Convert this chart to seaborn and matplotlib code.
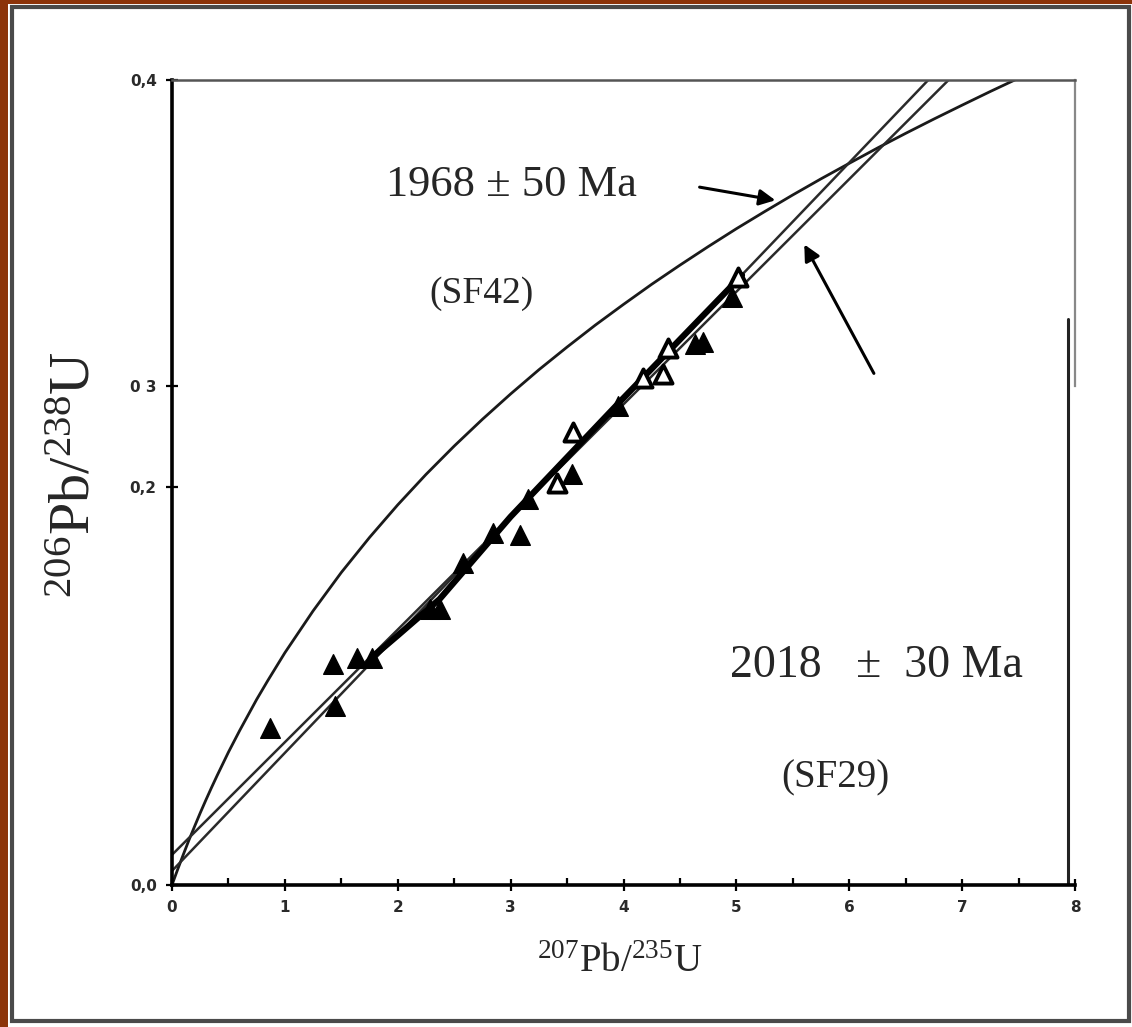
import numpy as np
import pandas as pd
import matplotlib
matplotlib.use('Agg')
import matplotlib.pyplot as plt
from matplotlib.patches import Rectangle
import seaborn as sns

# concordia curve
concordia_x = [0, 0.02, 0.05, 0.1, 0.15, 0.2, 0.25, 0.3, 0.35, 0.4, 0.5, 0.6, 0.75,
               0.85, 1.0, 1.25, 1.5, 1.75, 2.0, 2.25, 2.5, 2.75, 3.0, 3.25, 3.5,
               3.75, 4.0, 4.25, 4.5, 4.75, 5.0, 5.25, 5.5, 5.75, 6.0, 6.25, 6.5,
               6.75, 7.0, 7.25, 7.5]
concordia_y = [0, 0.0031, 0.0077, 0.0151, 0.0223, 0.0291, 0.0358, 0.0422, 0.0484,
               0.0544, 0.0660, 0.0768, 0.0922, 0.1017, 0.1154, 0.1362, 0.1553,
               0.1727, 0.1889, 0.2040, 0.2181, 0.2314, 0.2440, 0.2560, 0.2673,
               0.2782, 0.2885, 0.2985, 0.3080, 0.3172, 0.3261, 0.3346, 0.3429,
               0.3509, 0.3586, 0.3662, 0.3735, 0.3806, 0.3875, 0.3943, 0.4009]

# discordia lines
disc_2018_x = [0, 6.88]
disc_2018_y = [0.015, 0.4]
disc_1968_x = [0, 6.70]
disc_1968_y = [0.007, 0.4]

# thick segment through the data
fit_x = [1.77, 2.0, 2.37, 3.0, 4.0, 5.05]
fit_y = [0.113, 0.124, 0.142, 0.183, 0.242, 0.303]

# filled triangles (SF29) and open triangles (SF42)
filled_x = [0.87, 1.43, 1.44, 1.64, 1.77, 2.29, 2.37, 2.58, 2.84, 3.08, 3.15, 3.54,
            3.95, 4.63, 4.70, 4.96]
filled_y = [0.078, 0.110, 0.089, 0.113, 0.113, 0.137, 0.137, 0.160, 0.175, 0.174,
            0.192, 0.204, 0.238, 0.269, 0.270, 0.292]
open_x = [3.41, 3.55, 4.17, 4.35, 4.39, 5.01]
open_y = [0.200, 0.225, 0.252, 0.254, 0.267, 0.302]

xtick_vals = [0, 1, 2, 3, 4, 5, 6, 7, 8]
xtick_labels = ['0', '1', '2', '3', '4', '5', '6', '7', '8']
ytick_vals = [0.0, 0.198, 0.248, 0.4]
ytick_labels = ['0,0', '0,2', '0 3', '0,4']

sns.set_theme(style='white')
plt.rcParams['font.family'] = ['Liberation Serif', 'DejaVu Serif']
plt.rcParams['mathtext.fontset'] = 'custom'
plt.rcParams['mathtext.rm'] = 'Liberation Serif'
plt.rcParams['mathtext.it'] = 'Liberation Serif:italic'

W, H = 1132, 1027
fig = plt.figure(figsize=(W / 100, H / 100), dpi=100, facecolor='#8c3309')
# white sheet with grey frame
fig.patches.append(Rectangle((8 / W, 0 / H), 1, (H - 4) / H, transform=fig.transFigure,
                             facecolor='white', edgecolor='none', zorder=-10))
fig.patches.append(Rectangle((12 / W, (H - 1021) / H), (1129 - 12) / W, (1021 - 7) / H,
                             transform=fig.transFigure, facecolor='none',
                             edgecolor='#4a4a4a', lw=3, zorder=-9))

ax = fig.add_axes([172 / W, (H - 885) / H, 903 / W, 805 / H])
ax.set_facecolor('none')

sns.lineplot(x=concordia_x, y=concordia_y, sort=False, color='#1a1a1a', lw=2, ax=ax)
sns.lineplot(x=disc_2018_x, y=disc_2018_y, sort=False, color='#2a2a2a', lw=1.8, ax=ax)
sns.lineplot(x=disc_1968_x, y=disc_1968_y, sort=False, color='#2a2a2a', lw=1.8, ax=ax)
sns.lineplot(x=fit_x, y=fit_y, sort=False, color='black', lw=4.5, ax=ax)

sns.scatterplot(x=filled_x, y=filled_y, marker='^', s=200, color='black',
                edgecolor='black', linewidth=1, ax=ax, zorder=5)
sns.scatterplot(x=open_x, y=open_y, marker='^', s=170, facecolor='white',
                edgecolor='black', linewidth=2.8, ax=ax, zorder=6)

ax.set_xlim(0, 8)
ax.set_ylim(0, 0.4)
ax.set_xticks(xtick_vals)
ax.set_xticklabels(xtick_labels)
ax.set_xticks(np.arange(0.5, 8, 1.0), minor=True)
ax.set_yticks(ytick_vals)
ax.set_yticklabels(ytick_labels)
ax.tick_params(axis='both', which='major', direction='inout', length=8, width=1.6,
               color='black', labelsize=11, pad=7, bottom=True, left=True)
ax.tick_params(axis='x', which='minor', direction='in', length=5, width=1.6,
               color='black', bottom=True)
for lab in ax.get_xticklabels() + ax.get_yticklabels():
    lab.set_family('DejaVu Sans')
    lab.set_fontweight('bold')
    lab.set_color('#2a2a2a')

for side in ['left', 'bottom']:
    ax.spines[side].set_color('black')
    ax.spines[side].set_linewidth(2.6)
ax.spines['top'].set_color('#555555')
ax.spines['top'].set_linewidth(1.8)
ax.spines['right'].set_color('#888888')
ax.spines['right'].set_linewidth(1.6)
ax.spines['right'].set_bounds(0.248, 0.4)
ax.plot([7.94, 7.94], [0, 0.281], color='#222222', lw=2.2)

ax.text(3.01, 0.348, '1968 ± 50 Ma', fontsize=32, ha='center', va='center')
ax.text(2.74, 0.294, '(SF42)', fontsize=27, ha='center', va='center')
ax.text(6.24, 0.109, '2018   ±  30 Ma', fontsize=33, ha='center', va='center')
ax.text(5.88, 0.053, '(SF29)', fontsize=28, ha='center', va='center')

ax.annotate('', xy=(5.37, 0.340), xytext=(4.65, 0.347),
            arrowprops=dict(arrowstyle='-|>', color='black', lw=2.2, mutation_scale=24))
ax.annotate('', xy=(5.59, 0.3195), xytext=(6.23, 0.253),
            arrowprops=dict(arrowstyle='-|>', color='black', lw=2.2, mutation_scale=24))

fig.text(620 / W, 1 - 962 / H, r'$^{207}$Pb/$^{235}$U', ha='center', va='center',
         fontsize=28)
fig.text(75 / W, 1 - 475 / H, r'$^{206}$Pb/$^{238}$U', ha='center', va='center',
         fontsize=42, rotation=90)

fig.savefig('out.png', dpi=100, facecolor=fig.get_facecolor())
